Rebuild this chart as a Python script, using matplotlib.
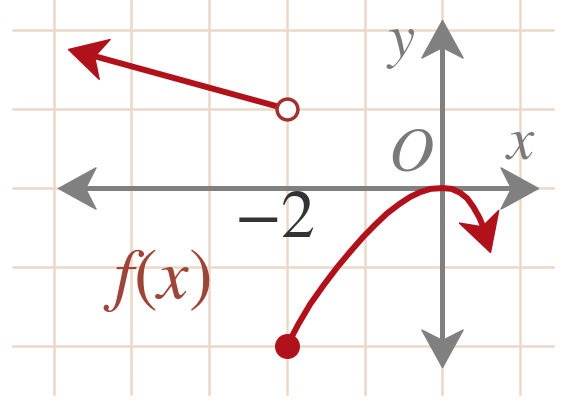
import numpy as np
import matplotlib
matplotlib.use("Agg")
import matplotlib.pyplot as plt
from matplotlib.markers import MarkerStyle
from matplotlib.path import Path
from matplotlib.transforms import Affine2D

plt.rcParams['mathtext.fontset'] = 'stix'

# grid / axes extents (graph units)
grid_x = [-5, -4, -3, -2, -1, 0, 1]
grid_y = [-2, -1, 0, 1, 2]
x_axis = [-4.95, 1.23]
y_axis = [-2.27, 2.13]

# left piece: ray from the open point (-2, 1) to the upper left
ray_x = [-2.0, -4.81]
ray_y = [1.0, 1.76]

# right piece: curve from the closed point (-2, -2) through the origin
curve_x = [-2.0, -1.85, -1.70, -1.52, -1.35, -1.18, -1.02, -0.86, -0.71, -0.55,
           -0.41, -0.28, -0.15, 0.0, 0.12, 0.23, 0.32, 0.40, 0.48, 0.55, 0.62]
curve_y = [-2.0, -1.72, -1.47, -1.22, -1.0, -0.80, -0.62, -0.46, -0.32, -0.20,
           -0.11, -0.05, -0.01, 0.0, -0.01, -0.06, -0.13, -0.24, -0.38, -0.55, -0.81]

RED = '#b0111b'
GRAY = '#808080'
GRID = '#ecd8c8'

# notched arrow head, tip at the origin pointing along +x
HEAD = Path([(0, 0), (-1, 0.55), (-0.72, 0), (-1, -0.55), (0, 0)],
            [Path.MOVETO, Path.LINETO, Path.LINETO, Path.LINETO, Path.CLOSEPOLY])


def draw_head(ax, tip, prev, color, size=54):
    p1 = ax.transData.transform(prev)
    p2 = ax.transData.transform(tip)
    ang = np.degrees(np.arctan2(p2[1] - p1[1], p2[0] - p1[0]))
    m = MarkerStyle(HEAD, transform=Affine2D().rotate_deg(ang))
    ax.plot([tip[0]], [tip[1]], marker=m, markersize=size, color=color,
            linestyle='none', zorder=6)


def pull_back(ax, tip, prev, px):
    # point px pixels behind the tip, towards prev
    p1 = ax.transData.transform(prev)
    p2 = ax.transData.transform(tip)
    d = (p2 - p1) / np.hypot(*(p2 - p1))
    return ax.transData.inverted().transform(p2 - d * px)


fig = plt.figure(figsize=(5.62, 4.03), dpi=100)
ax = fig.add_axes([0, 0, 1, 1])
ax.set_xlim(-5.69, 1.54)
ax.set_ylim(-2.72, 2.38)
ax.axis('off')

# grid
for gx in grid_x:
    ax.plot([gx, gx], [-2.6, 2.5], color=GRID, lw=1.8, zorder=1)
for gy in grid_y:
    ax.plot([-5.52, 1.43], [gy, gy], color=GRID, lw=1.8, zorder=1)

# axes with arrows on both ends
a = pull_back(ax, (x_axis[0], 0), (x_axis[1], 0), 18)
b = pull_back(ax, (x_axis[1], 0), (x_axis[0], 0), 18)
ax.plot([a[0], b[0]], [0, 0], color=GRAY, lw=3.6, solid_capstyle='butt', zorder=2)
draw_head(ax, (x_axis[0], 0), (x_axis[1], 0), GRAY)
draw_head(ax, (x_axis[1], 0), (x_axis[0], 0), GRAY)
a = pull_back(ax, (0, y_axis[0]), (0, y_axis[1]), 18)
b = pull_back(ax, (0, y_axis[1]), (0, y_axis[0]), 18)
ax.plot([0, 0], [a[1], b[1]], color=GRAY, lw=3.6, solid_capstyle='butt', zorder=2)
draw_head(ax, (0, y_axis[0]), (0, y_axis[1]), GRAY)
draw_head(ax, (0, y_axis[1]), (0, y_axis[0]), GRAY)

# left ray
tip = (ray_x[1], ray_y[1])
start = (ray_x[0], ray_y[0])
e = pull_back(ax, tip, start, 18)
ax.plot([ray_x[0], e[0]], [ray_y[0], e[1]], color=RED, lw=4.3, solid_capstyle='butt', zorder=5)
draw_head(ax, tip, start, RED, size=54)
ax.plot(ray_x[0], ray_y[0], 'o', ms=15, mfc='white', mec='#a2302b', mew=2.5, zorder=7)

# curve
ax.plot(curve_x[:-1], curve_y[:-1], color=RED, lw=4.3, solid_capstyle='butt', zorder=5)
draw_head(ax, (curve_x[-1], curve_y[-1]), (curve_x[-3], curve_y[-3]), RED, size=54)
ax.plot(curve_x[0], curve_y[0], 'o', ms=17, color=RED, zorder=7)

# labels
ax.text(-0.54, 1.85, '$y$', fontsize=44, color='#7a7a7a', ha='center', va='center')
ax.text(1.0, 0.58, '$x$', fontsize=44, color='#7a7a7a', ha='center', va='center')
ax.text(-0.41, 0.44, '$O$', fontsize=45, color='#7a7a7a', ha='center', va='center')
ax.text(-2.16, -0.38, '$-2$', fontsize=49, color='#333333', ha='center', va='center')
ax.text(-3.68, -1.16, '$f(x)$', fontsize=51, color='#9c4538', ha='center', va='center')

fig.savefig('out.png', dpi=100)
